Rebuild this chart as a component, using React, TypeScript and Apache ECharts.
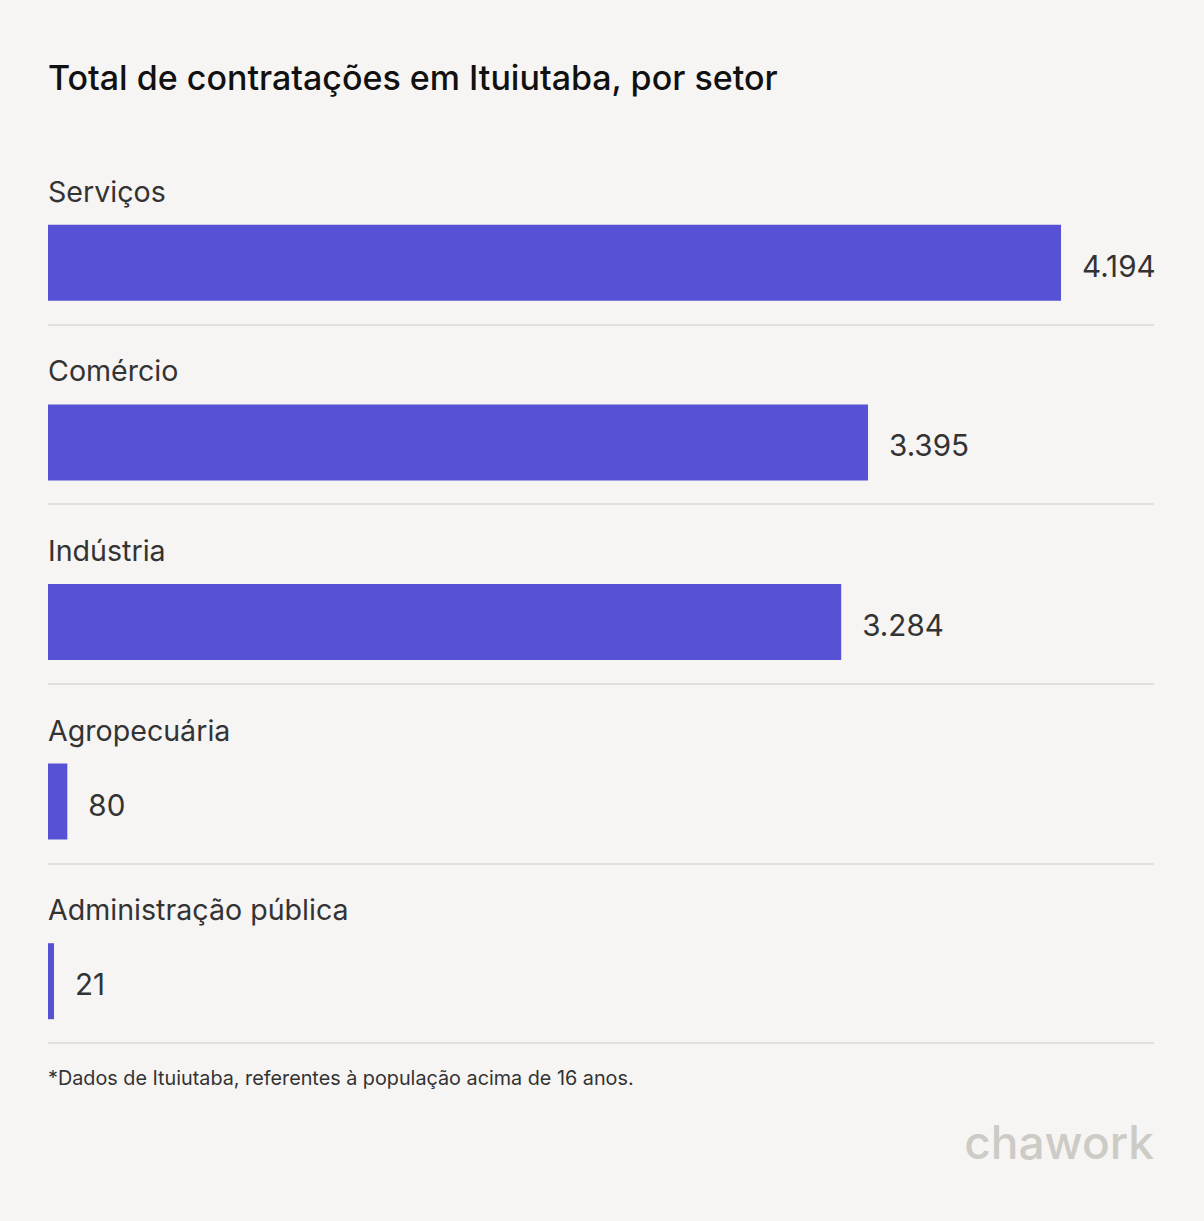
import React, { useEffect, useRef } from "react";
import * as echarts from "echarts";

const categories = ["Serviços", "Comércio", "Indústria", "Agropecuária", "Administração pública"];
const values = [4194, 3395, 3284, 80, 21];
const titleText = "Total de contratações em Ituiutaba, por setor";
const footnoteText = "*Dados de Ituiutaba, referentes à população acima de 16 anos.";
const logoText = "chawork";

const fmt = (v: number) => v.toLocaleString("pt-BR");

export default function App() {
  const ref = useRef<HTMLDivElement>(null);
  useEffect(() => {
    document.body.style.margin = "0";
    const chart = echarts.init(ref.current!, null, { renderer: "svg" });
    const font = "Inter, 'Noto Sans', sans-serif";
    chart.setOption({
      animation: false,
      backgroundColor: "#f6f5f3",
      textStyle: { fontFamily: font },
      grid: { left: 48, right: 50, top: 173, height: 898, containLabel: false },
      xAxis: { type: "value", min: 0, max: 4579, show: false },
      yAxis: {
        type: "category",
        inverse: true,
        data: categories,
        axisLine: { show: false },
        axisTick: { show: false },
        splitLine: { show: false },
        axisLabel: {
          inside: true,
          margin: 0,
          align: "left",
          verticalAlign: "middle",
          formatter: (v: string) => `{n|${v}}\n{s|}`,
          rich: {
            n: { fontSize: 28.6, lineHeight: 30, color: "#333333", fontFamily: font },
            s: { height: 143, lineHeight: 143 },
          },
        },
      },
      series: [
        {
          type: "bar",
          data: values,
          barWidth: 76,
          barMinHeight: 6,
          itemStyle: { color: "#5752d5" },
          label: {
            show: true,
            position: "right",
            distance: 21,
            offset: [0, 3],
            fontSize: 29.6,
            color: "#333333",
            fontFamily: font,
            formatter: (p: any) => fmt(p.value),
          },
        },
      ],
      graphic: [
        {
          type: "text",
          left: 48,
          top: 60,
          style: { text: titleText, fontSize: 34, fill: "#111111", fontFamily: font, fontWeight: 500 },
        },
        {
          type: "text",
          left: 48,
          top: 1068,
          style: { text: footnoteText, fontSize: 19.8, fill: "#333333", fontFamily: font },
        },
        {
          type: "text",
          right: 50,
          top: 1119,
          style: { text: logoText, fontSize: 46, fill: "#cdcbc5", fontFamily: font, fontWeight: 500 },
        },
      ],
    });
    const lines = categories.map((c) => {
      const y = Math.round(chart.convertToPixel({ yAxisIndex: 0 }, c) as number) + 62;
      return {
        type: "line",
        shape: { x1: 48, y1: y, x2: 1154, y2: y },
        style: { stroke: "#e2e0dc", lineWidth: 2 },
      };
    });
    chart.setOption({ graphic: [{}, {}, {}, ...lines] });
    return () => chart.dispose();
  }, []);
  return <div ref={ref} style={{ width: 1204, height: 1221 }} />;
}
